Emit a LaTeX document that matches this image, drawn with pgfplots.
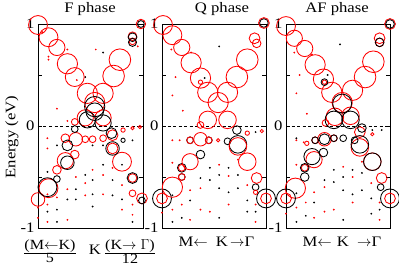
\documentclass[border=0pt]{standalone}
\usepackage{fontspec}
\setmainfont{Liberation Serif}[FakeStretch=1.15]
\usepackage{pgfplots}
\pgfplotsset{compat=1.18}
\pgfplotsset{
  fat/.style={scatter, only marks, mark=o, line width=0.85pt,
    scatter/use mapped color={draw=#1},
    visualization depends on={\thisrow{r}\as\mrad},
    scatter/@pre marker code/.append style={/tikz/mark size=1.35*\mrad}},
  dot/.style={only marks, mark=*, mark size=0.7pt, color=#1},
  band/.style={scale only axis, anchor=south west, width=104pt, height=204pt,
    xmin=0, xmax=1, ymin=-1, ymax=1, clip=false,
    axis line style={line width=0.8pt},
    xtick=\empty, ytick={-1,-0.5,0,0.5,1}, yticklabels={-1,,0,,1},
    tick align=inside, major tick length=4pt, tick style={black, line width=0.6pt},
    extra y ticks={0}, extra y tick labels={},
    extra y tick style={grid=major, grid style={black, line width=0.6pt, dash pattern=on 3pt off 2.5pt}},
    yticklabel style={font=\fontsize{14.5}{16}\selectfont}},
}
\begin{document}
\begin{tikzpicture}
\useasboundingbox (0,0) rectangle (399pt,265pt);
\tikzset{lab/.style={font=\fontsize{14.5}{16}\selectfont, inner sep=0pt},
  flab/.style={font=\fontsize{14}{15}\selectfont, inner sep=0pt}}
% ---------------- F phase ----------------
\begin{axis}[band, at={(38pt,37pt)}, width=105pt]
\addplot[dot=red] table {
x y
0.09 -0.12
0.09 -0.22
0.09 -0.67
0.09 -0.77
0.18 -0.70
0.28 -0.62
0.36 -0.50
0.45 -0.56
0.52 -0.43
0.62 -0.48
0.71 -0.41
0.80 -0.58
0.90 -0.77
0.00 -0.80
0.00 -0.90
0.04 0.92
0.10 0.68
0.10 0.65
0.28 0.75
0.18 0.17
0.37 0.45
0.28 0.05
0.95 0.78
0.55 0.75
0.09 -0.94
0.28 -0.92
0.45 -0.68
0.80 -0.82
0.62 -0.67
0.90 -0.87
};
\addplot[dot=black] table {
x y
0.09 -0.45
0.09 -0.84
0.18 -0.82
0.18 -0.94
0.28 -0.72
0.36 -0.62
0.36 -0.72
0.45 -0.48
0.52 -0.53
0.52 -0.67
0.52 -0.79
0.62 -0.38
0.71 -0.53
0.71 -0.68
0.80 -0.38
0.80 -0.72
0.90 -0.94
0.18 -0.19
0.52 -0.19
0.62 -0.19
0.90 -0.14
0.45 0.48
0.62 0.72
};
\addplot[fat=red] table {
x y r
0.00 0.99 7
0.10 0.87 7
0.18 0.77 6
0.28 0.61 7.5
0.35 0.48 7
0.47 0.32 7.5
0.54 0.23 7.5
0.62 0.32 7.5
0.72 0.49 8
0.78 0.65 8
0.98 1.00 3.5
0.90 0.88 3.2
0.90 0.83 2.5
0.45 0.08 6
0.62 0.08 6
0.35 0.04 2.5
0.81 -0.04 1.6
0.90 -0.02 1.2
0.97 -0.01 1.2
0.26 -0.12 3.2
0.36 -0.13 5
0.45 -0.13 2.5
0.52 -0.13 2.5
0.62 -0.12 2.5
0.71 -0.09 4
0.35 -0.28 3.2
0.26 -0.34 6
0.18 -0.43 3.2
0.10 -0.61 7
0.00 -0.72 5
0.71 -0.22 4
0.80 -0.35 7
0.90 -0.51 3.2
0.90 -0.66 2.5
0.99 -0.71 4
};
\addplot[fat=black] table {
x y r
0.98 1.00 2.5
0.90 0.87 3.2
0.90 0.82 3
0.54 0.19 7.5
0.54 0.14 6.5
0.47 0.06 6
0.62 0.03 6
0.35 -0.03 2.5
0.70 -0.07 4
0.81 -0.14 1.6
0.28 -0.19 4
0.71 -0.22 5
0.28 -0.36 5
0.18 -0.52 2.5
0.09 -0.60 7
0.90 -0.51 4
0.99 -0.73 2.5
};
\end{axis}
% ---------------- Q phase ----------------
\begin{axis}[band, at={(162pt,37pt)}]
\addplot[dot=red] table {
x y
0.10 -0.14
0.17 -0.14
0.10 -0.36
0.10 -0.82
0.19 -0.77
0.27 -0.63
0.37 -0.61
0.46 -0.84
0.55 -0.38
0.64 -0.49
0.64 -0.77
0.73 -0.33
0.82 -0.58
0.90 -0.77
0.90 -0.94
0.27 -0.92
0.00 -0.85
0.28 0.72
0.10 0.30
0.13 0.48
0.20 0.15
0.09 0.75
0.37 -0.82
};
\addplot[dot=black] table {
x y
0.90 -0.06
0.10 -0.68
0.10 -0.94
0.19 -0.90
0.27 -0.73
0.37 -0.51
0.46 -0.41
0.46 -0.53
0.55 -0.48
0.55 -0.61
0.64 -0.41
0.64 -0.65
0.73 -0.48
0.73 -0.61
0.82 -0.73
0.82 -0.84
0.90 -0.84
0.55 -0.90
0.41 0.47
0.55 0.78
};
\addplot[fat=black] table {
x y r
0.98 1.01 3.2
0.72 -0.04 3.2
0.27 -0.14 2.5
0.45 -0.14 2.5
0.63 -0.15 2.5
0.73 -0.18 6.5
0.37 -0.28 3.2
0.19 -0.41 3.2
0.19 -0.50 2.5
0.00 -0.71 7
0.90 -0.60 2.5
1.00 -0.71 7
};
\addplot[fat=red] table {
x y r
0.01 0.99 7
0.10 0.89 7
0.19 0.77 6
0.28 0.62 7.5
0.37 0.47 7.5
0.44 0.33 7.5
0.54 0.23 7.5
0.63 0.33 7.5
0.72 0.48 8
0.82 0.65 8
0.89 0.86 4
0.91 0.81 3.2
0.98 1.01 4
0.44 0.06 6.5
0.63 0.06 6.5
0.37 0.01 2.5
0.37 0.43 1.6
0.82 -0.07 1.6
0.96 -0.05 1.2
0.27 -0.14 2.5
0.37 -0.13 5
0.45 -0.14 2.5
0.54 -0.14 1.2
0.73 -0.20 6.5
0.27 -0.35 6
0.19 -0.41 2.5
0.19 -0.50 2.5
0.10 -0.60 7.5
0.00 -0.71 4
0.82 -0.35 6.5
0.91 -0.51 4
0.90 -0.65 1.6
1.00 -0.71 4
};
\end{axis}
% ---------------- AF phase ----------------
\begin{axis}[band, at={(286pt,37pt)}]
\addplot[dot=red] table {
x y
0.10 -0.14
0.17 -0.16
0.10 -0.38
0.10 -0.80
0.19 -0.75
0.27 -0.65
0.37 -0.60
0.46 -0.82
0.55 -0.40
0.64 -0.50
0.64 -0.75
0.73 -0.35
0.82 -0.56
0.90 -0.75
0.90 -0.92
0.27 -0.90
0.00 -0.86
0.25 0.70
0.10 0.32
0.13 0.50
0.20 0.12
0.08 0.72
0.37 -0.84
};
\addplot[dot=black] table {
x y
0.83 -0.04
0.92 -0.04
0.10 -0.12
0.10 -0.66
0.10 -0.94
0.19 -0.88
0.27 -0.75
0.37 -0.53
0.46 -0.43
0.46 -0.55
0.55 -0.50
0.55 -0.63
0.64 -0.43
0.64 -0.67
0.73 -0.46
0.73 -0.63
0.82 -0.71
0.82 -0.86
0.90 -0.82
0.55 -0.92
0.40 0.50
0.52 0.80
};
\addplot[fat=red] table {
x y r
0.00 0.98 7
0.08 0.86 6
0.18 0.76 6
0.28 0.60 7.5
0.36 0.46 7.5
0.44 0.33 7.5
0.54 0.23 7.5
0.64 0.35 7.5
0.76 0.48 8
0.84 0.63 8
0.90 0.86 4
0.90 0.82 3.2
1.00 1.00 4
0.47 0.09 6.5
0.62 0.10 6.5
0.37 0.43 1.6
0.38 0.03 2.5
0.71 -0.06 4
0.83 -0.08 1.2
0.20 -0.17 1.6
0.28 -0.14 2.5
0.37 -0.13 5
0.46 -0.12 2.5
0.71 -0.21 6.5
0.27 -0.33 6
0.18 -0.41 2.5
0.09 -0.61 7.5
0.00 -0.71 4
0.83 -0.35 6.5
0.92 -0.51 4
1.00 -0.71 4
};
\addplot[fat=black] table {
x y r
0.54 0.22 7
0.90 0.82 3.2
1.00 1.00 3.2
0.46 0.06 6.5
0.62 0.06 6.5
0.37 0.43 2.5
0.73 -0.02 3.2
0.28 -0.14 2.5
0.37 -0.13 4
0.46 -0.12 2.5
0.55 -0.12 2.5
0.66 -0.14 2.5
0.71 -0.18 6.5
0.36 -0.26 3.2
0.25 -0.30 6
0.18 -0.41 3.2
0.18 -0.50 3.2
0.00 -0.71 7
0.83 -0.35 6.5
0.91 -0.60 2.5
1.00 -0.71 7
};
\end{axis}
% ---------------- labels ----------------
\node[lab, anchor=base] at (90pt,252pt) {F phase};
\node[lab, anchor=base] at (222pt,252pt) {Q phase};
\node[lab, anchor=base] at (337pt,252pt) {AF phase};
\node[lab, rotate=90] at (12pt,128pt) {Energy (eV)};
\node[flab] at (50pt,13.5pt) {$\frac{\mbox{(M$\leftarrow$K)}}{\mbox{5}}$};
\node[lab] at (95pt,15pt) {K};
\node[flab] at (130pt,13.5pt) {$\frac{\mbox{(K$\rightarrow\Gamma$)}}{\mbox{12}}$};
\node[lab, anchor=base east] at (208pt,18pt) {M$\leftarrow$};
\node[lab, anchor=base] at (222pt,18pt) {K};
\node[lab, anchor=base west] at (230pt,18pt) {$\rightarrow$Γ};
\node[lab, anchor=base east] at (332pt,18pt) {M$\leftarrow$};
\node[lab, anchor=base] at (343pt,18pt) {K};
\node[lab, anchor=base west] at (357pt,18pt) {$\rightarrow$Γ};
\end{tikzpicture}
\end{document}
